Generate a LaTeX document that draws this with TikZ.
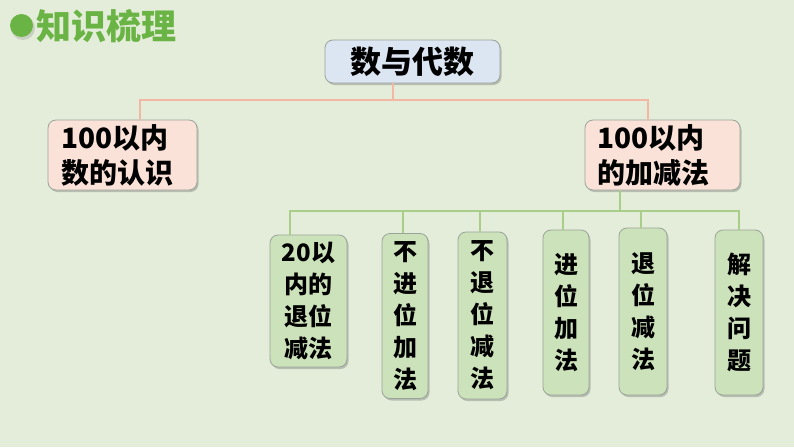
\documentclass[tikz,border=0pt]{standalone}
\usepackage{fontspec}
\newfontfamily\cjk{Noto Sans CJK SC}
\usetikzlibrary{shadows}
\definecolor{bg}{HTML}{E4EDDA}
\definecolor{titlegreen}{HTML}{6AB445}
\definecolor{topfill}{HTML}{DCE6F2}
\definecolor{pinkfill}{HTML}{FAE2D8}
\definecolor{pinkline}{HTML}{F3B8A3}
\definecolor{greenline}{HTML}{A8CE8A}
\definecolor{greenfill}{HTML}{CCE2BA}
\definecolor{boxborder}{HTML}{9AA39A}
\tikzset{
  boxbase/.style={draw=boxborder, line width=0.8pt, rounded corners=8pt,
    drop shadow={shadow xshift=1.5pt, shadow yshift=-2pt, opacity=0.35, fill=black!60},
    inner sep=0pt, font=\cjk\bfseries},
  topbox/.style={boxbase, fill=topfill, minimum width=175pt, minimum height=43pt,
    font=\cjk\bfseries\fontsize{31}{36}\selectfont},
  midbox/.style={boxbase, fill=pinkfill, minimum height=70pt},
  midtxt/.style={inner sep=0pt, align=left, font=\cjk\bfseries\fontsize{28}{35}\selectfont},
  leafbox/.style={boxbase, fill=greenfill, align=center,
    font=\cjk\bfseries\fontsize{24}{32}\selectfont},
  pinkconn/.style={draw=pinkline, line width=2.8pt},
  greenconn/.style={draw=greenline, line width=2.8pt}
}
\begin{document}
\begin{tikzpicture}[x=1pt,y=-1pt]
\fill[bg] (0,0) rectangle (794,447);
\useasboundingbox (0,0) rectangle (794,447);
% title
\fill[black, opacity=0.12] (23,28) circle (12);
\fill[titlegreen] (21.5,25.5) circle (11.5);
\node[anchor=west, inner sep=0pt, text=titlegreen, font=\cjk\bfseries\fontsize{35}{38}\selectfont] (title) at (36,26) {知识梳理};
% top
\node[topbox] (top) at (412.5,61.5) {数与代数};
\node[midbox, minimum width=149pt] (left) at (122.5,155) {};
\node[midtxt, anchor=west] (lefttxt) at (61,155) {100以内\\数的认识};
\node[midbox, minimum width=155pt] (right) at (662.5,155) {};
\node[midtxt, anchor=west] (righttxt) at (597,155) {100以内\\的加减法};
% leaves
\node[leafbox, minimum width=77pt, minimum height=132pt] (l1) at (308.5,301) {20以\\内的\\退位\\减法};
\node[leafbox, minimum width=46pt, minimum height=165pt] (l2) at (405,316) {不\\进\\位\\加\\法};
\node[leafbox, minimum width=49pt, minimum height=167pt] (l3) at (482.5,315.5) {不\\退\\位\\减\\法};
\node[leafbox, minimum width=46pt, minimum height=165pt] (l4) at (566,312.5) {进\\位\\加\\法};
\node[leafbox, minimum width=48pt, minimum height=167pt] (l5) at (643,311.5) {退\\位\\减\\法};
\node[leafbox, minimum width=48pt, minimum height=165pt] (l6) at (739,312.5) {解\\决\\问\\题};
% pink connectors
\coordinate (pj) at (393,100);
\draw[pinkconn] (top.south -| pj) -- (pj);
\draw[pinkconn] (pj) -| (left.north -| 140,0);
\draw[pinkconn] (pj) -| (right.north -| 648,0);
% green connectors
\coordinate (gj) at (620,211);
\draw[greenconn] (right.south -| gj) -- (gj);
\draw[greenconn] (gj) -| (l1.north -| 290,0);
\draw[greenconn] (gj) -| (l2.north -| 403,0);
\draw[greenconn] (gj) -| (l3.north -| 480,0);
\draw[greenconn] (gj) -| (l4.north -| 563,0);
\draw[greenconn] (gj) -| (l5.north -| 641,0);
\draw[greenconn] (gj) -| (l6.north -| 739,0);
\end{tikzpicture}
\end{document}
